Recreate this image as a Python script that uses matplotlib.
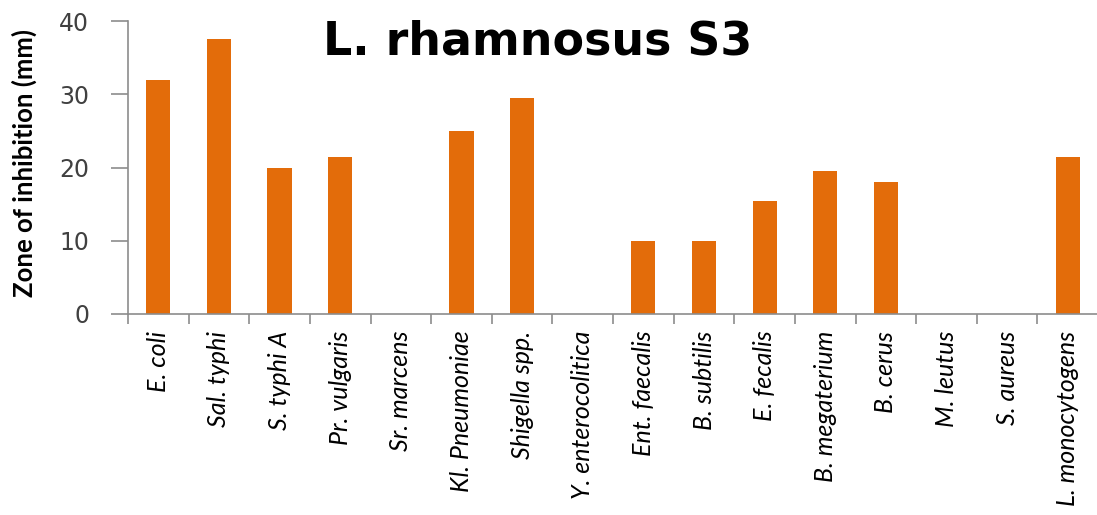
import numpy as np
import matplotlib
matplotlib.use("Agg")
import matplotlib.pyplot as plt

# Dados
bacterias = [
    "E. coli", "Sal. typhi", "S. typhi A", "Pr. vulgaris", "Sr. marcens",
    "Kl. Pneumoniae", "Shigella spp.", "Y. enterocolitica", "Ent. faecalis",
    "B. subtilis", "E. fecalis", "B. megaterium", "B. cerus", "M. leutus",
    "S. aureus", "L. monocytogens",
]
zona_inibicao = [32, 37.6, 20, 21.5, 0, 25, 29.5, 0, 10, 10, 15.5, 19.5, 18, 0, 0, 21.5]
y_ticks = [0, 10, 20, 30, 40]

cor_barra = "#E36C0A"
cor_eixo = "#8C8C8C"

fig = plt.figure(figsize=(10.97, 5.15), dpi=100)
ax = fig.add_axes([0.1167, 0.3903, 0.8843, 0.5687])

x = np.arange(len(bacterias))
ax.bar(x, zona_inibicao, width=0.4, color=cor_barra)

ax.set_xlim(-0.5, len(bacterias) - 0.5)
ax.set_ylim(0, 40)
ax.set_yticks(y_ticks)
ax.set_yticklabels([str(v) for v in y_ticks], fontsize=17, color="#404040",
                   family="DejaVu Sans")

# marcas do eixo x nas divisas das categorias
ax.set_xticks(x - 0.5, minor=False)
ax.set_xticklabels([])
ax.set_xticks(x, minor=True)
ax.set_xticklabels(bacterias, minor=True, rotation=90, fontsize=18,
                   style="italic", family="Lato", color="black")
ax.tick_params(axis="x", which="minor", length=0, pad=12)
ax.tick_params(axis="x", which="major", length=7, color=cor_eixo, width=1.2)
ax.tick_params(axis="y", length=12, color=cor_eixo, width=1.2, pad=16)

for lado in ["top", "right"]:
    ax.spines[lado].set_visible(False)
for lado in ["left", "bottom"]:
    ax.spines[lado].set_color(cor_eixo)
    ax.spines[lado].set_linewidth(1.2)

ax.set_ylabel("Zone of inhibition (mm)", fontsize=18.5, fontweight="bold",
              family="Lato")
ax.yaxis.set_label_coords(-0.094, 0.515)

fig.text(538 / 1097, 1 - 42 / 515, "L. rhamnosus S3", ha="center", va="center",
         fontsize=33, fontweight="bold", family="DejaVu Sans")

fig.savefig("out.png", dpi=100)
